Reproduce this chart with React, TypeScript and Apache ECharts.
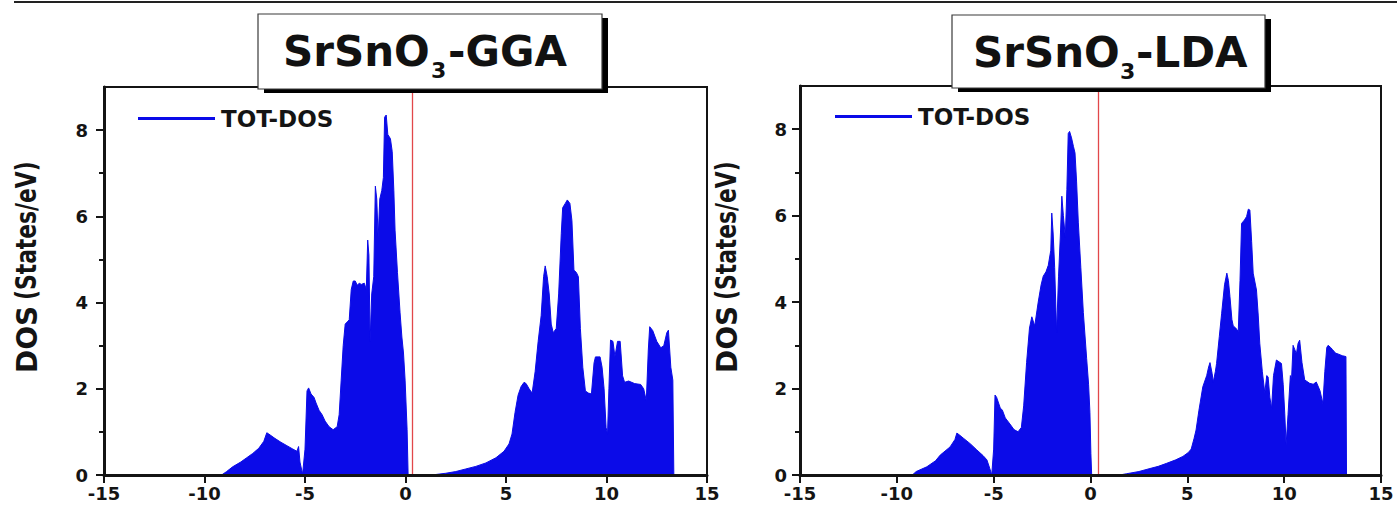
import { useEffect, useRef } from "react";
import * as echarts from "echarts";

// Total density of states of SrSnO3, GGA and LDA functionals (energy in eV, DOS in states/eV)
const ggaEnergy = [
  -15, -9.15, -8.9, -8.6, -8.2, -7.9, -7.6, -7.3, -7.05, -6.9, -6.8, -6.5, -6.2, -5.9, -5.6, -5.4,
  -5.32, -5.25, -5.12, -5.0, -4.9, -4.82, -4.7, -4.55, -4.45, -4.3, -4.15, -4.0, -3.8, -3.6, -3.4,
  -3.3, -3.2, -3.1, -3.0, -2.9, -2.8, -2.7, -2.6, -2.5, -2.4, -2.3, -2.2, -2.05, -1.95, -1.88, -1.82,
  -1.76, -1.68, -1.58, -1.5, -1.43, -1.36, -1.28, -1.18, -1.1, -1.04, -0.96, -0.88, -0.75, -0.66,
  -0.58, -0.52, -0.4, -0.27, -0.18, -0.1, -0.02, 0.08, 0.13,
  1.3, 2.0, 2.5, 3.0, 3.5, 4.0, 4.5, 4.9, 5.15, 5.3, 5.45, 5.6, 5.75, 5.9, 6.0, 6.15, 6.3, 6.45,
  6.6, 6.75, 6.87, 6.95, 7.05, 7.15, 7.25, 7.35, 7.5, 7.62, 7.75, 7.82, 7.95, 8.05, 8.18, 8.28,
  8.38, 8.5, 8.6, 8.7, 8.82, 8.95, 9.1, 9.25, 9.38, 9.45, 9.68, 9.78, 9.88, 9.98, 10.05, 10.12,
  10.2, 10.32, 10.42, 10.55, 10.68, 10.8, 10.9, 11.1, 11.4, 11.7, 11.85, 11.98, 12.08, 12.15,
  12.3, 12.5, 12.7, 12.85, 13.0, 13.08, 13.2, 13.3, 13.35,
];
const ggaDos = [
  0, 0, 0.08, 0.19, 0.3, 0.4, 0.5, 0.62, 0.78, 0.98, 0.95, 0.85, 0.76, 0.68, 0.6, 0.55,
  0.66, 0.3, 0.02, 0.6, 1.95, 2.02, 1.88, 1.8, 1.67, 1.5, 1.4, 1.25, 1.12, 1.05, 1.12,
  1.4, 2.2, 3.0, 3.5, 3.55, 3.6, 4.3, 4.5, 4.5, 4.4, 4.45, 4.42, 4.45, 4.3, 5.45, 5.1,
  3.1, 4.2, 4.6, 6.7, 6.4, 5.5, 6.4, 6.6, 6.9, 8.3, 8.35, 7.9, 7.8, 7.5,
  6.6, 5.68, 4.7, 3.76, 3.2, 2.83, 2.2, 1.05, 0,
  0, 0.04, 0.08, 0.14, 0.2, 0.28, 0.4, 0.55, 0.72, 0.95, 1.45, 1.85, 2.05, 2.15, 2.12, 2.0, 1.9, 2.4,
  3.1, 3.7, 4.6, 4.85, 4.6, 4.2, 3.5, 3.3, 3.4, 4.2, 5.6, 6.2, 6.3, 6.38, 6.3, 5.9,
  4.75, 4.7, 4.6, 3.4, 2.5, 1.95, 1.9, 1.88, 2.6, 2.74, 2.74, 2.5, 2.0, 1.1, 0.95, 2.0,
  3.13, 3.1, 2.75, 3.1, 3.1, 2.3, 2.15, 2.18, 2.12, 2.1, 2.0, 1.72, 2.9, 3.44,
  3.35, 3.1, 2.95, 3.0, 3.3, 3.36, 2.5, 2.2, 0,
];

const ldaEnergy = [
  -15, -9.2, -9.0, -8.45, -8.0, -7.76, -7.25, -7.0, -6.9, -6.75, -6.56, -6.2, -5.87, -5.55, -5.35,
  -5.2, -5.1, -5.0, -4.93, -4.85, -4.66, -4.55, -4.4, -4.16, -3.95, -3.74, -3.57, -3.45, -3.3,
  -3.15, -3.03, -2.88, -2.7, -2.55, -2.44, -2.3, -2.18, -2.05, -2.0, -1.93, -1.85, -1.75, -1.65,
  -1.55, -1.48, -1.4, -1.3, -1.22, -1.15, -1.08, -0.98, -0.88, -0.8, -0.72, -0.63, -0.5, -0.37,
  -0.2, -0.1, -0.03, 0.02, 0.06,
  1.5, 1.87, 2.5, 3.07, 3.5, 3.93, 4.4, 4.77, 5.05, 5.2, 5.35, 5.45, 5.6, 5.8, 6.0, 6.1, 6.17,
  6.28, 6.34, 6.45, 6.51, 6.65, 6.77, 6.92, 7.04, 7.12, 7.2, 7.3, 7.37, 7.5, 7.63, 7.72, 7.8,
  7.95, 8.06, 8.15, 8.23, 8.32, 8.4, 8.57, 8.66, 8.74, 8.87, 9.0, 9.1, 9.17, 9.26, 9.35, 9.45,
  9.6, 9.86, 9.95, 10.03, 10.1, 10.2, 10.32, 10.38, 10.46, 10.55, 10.63, 10.72, 10.8, 10.92,
  11.06, 11.32, 11.5, 11.66, 11.85, 12.0, 12.1, 12.2, 12.27, 12.4, 12.5, 12.65, 12.78, 13.0,
  13.19, 13.22,
];
const ldaDos = [
  0, 0, 0.08, 0.19, 0.33, 0.46, 0.65, 0.82, 0.97, 0.92, 0.85, 0.72, 0.58, 0.45, 0.35,
  0.15, 0, 0.6, 1.85, 1.8, 1.55, 1.5, 1.32, 1.18, 1.05, 1.0, 1.1, 1.6, 2.6,
  3.4, 3.66, 3.45, 4.0, 4.4, 4.6, 4.7, 4.85, 5.2, 6.06, 5.6, 4.8, 3.3, 4.6,
  5.6, 6.45, 6.0, 5.5, 6.6, 7.9, 7.95, 7.8, 7.6, 7.45, 6.8, 5.85, 4.8, 3.76,
  2.7, 2.1, 1.45, 0.5, 0,
  0, 0.03, 0.08, 0.15, 0.2, 0.27, 0.35, 0.43, 0.52, 0.6, 0.85, 1.04, 1.5, 2.04, 2.3, 2.5, 2.6,
  2.35, 2.15, 2.4, 2.58, 3.2, 3.73, 4.4, 4.67, 4.5, 4.13, 3.6, 3.45, 3.4, 3.32, 4.5, 5.82,
  5.9, 5.98, 6.15, 6.13, 5.4, 4.67, 4.28, 3.7, 3.05, 2.4, 1.9, 2.3, 2.27, 1.8, 1.54, 2.3,
  2.66, 2.58, 2.1, 1.43, 0.7, 1.4, 2.3, 2.2, 3.0, 2.9, 2.8, 3.05, 3.12, 2.6,
  2.2, 2.12, 2.1, 2.15, 1.95, 1.65, 2.4, 2.95, 3.0, 2.95, 2.9, 2.82, 2.8, 2.76,
  2.74, 0,
];

const seriesName = "TOT-DOS";
const fermiLevels = [0.35, 0.42];
const energyRange = [-15, 15];
const dosRange = [0, 9];
const majorDosTicks = [0, 2, 4, 6, 8];
const minorDosTicks = [1, 3, 5, 7];
const axisTitleMain = "DOS";
const axisTitleUnit = "(States/eV)";

const FONT = "DejaVu Sans";
const BLUE = "#0b0be8";
const INK = "#141414";

const zip = (xs: number[], ys: number[]) => xs.map((x, i) => [x, ys[i]]);

// Title box with a drop shadow and a subscripted formula
function titleBox(
  box: { x: number; y: number; w: number; h: number },
  textX: number,
  subX: number,
  suffixX: number,
  suffix: string
) {
  const main = { fontFamily: FONT, fontWeight: "bold", fontSize: 42, fill: "#111" };
  return [
    {
      type: "rect",
      z: 100,
      shape: { x: box.x + 6, y: box.y + 4, width: box.w, height: box.h },
      style: { fill: "#000" },
    },
    {
      type: "rect",
      z: 101,
      shape: { x: box.x, y: box.y, width: box.w, height: box.h },
      style: { fill: "#fff", stroke: "#3a3a3a", lineWidth: 1.2 },
    },
    {
      type: "text",
      z: 102,
      x: textX,
      y: box.y + 37,
      style: { ...main, text: "SrSnO", align: "left", verticalAlign: "middle" },
    },
    {
      type: "text",
      z: 102,
      x: subX,
      y: box.y + 56,
      style: {
        fontFamily: FONT,
        fontWeight: "bold",
        fontSize: 22,
        fill: "#111",
        text: "3",
        align: "left",
        verticalAlign: "middle",
      },
    },
    {
      type: "text",
      z: 102,
      x: suffixX,
      y: box.y + 37,
      style: { ...main, text: suffix, align: "left", verticalAlign: "middle" },
    },
  ];
}

// Rotated y-axis title; the unit part is set condensed
function axisTitle(x: number, y: number) {
  const st = { fontFamily: FONT, fontWeight: "bold", fontSize: 28, fill: INK };
  return {
    type: "group",
    x,
    y,
    rotation: Math.PI / 2,
    children: [
      { type: "text", x: 0, y: 0, style: { ...st, text: axisTitleMain, align: "left", verticalAlign: "middle" } },
      {
        type: "text",
        x: 73,
        y: 0,
        scaleX: 0.78,
        style: { ...st, text: axisTitleUnit, align: "left", verticalAlign: "middle" },
      },
    ],
  };
}

export default function App() {
  const ref = useRef<HTMLDivElement>(null);

  useEffect(() => {
    if (!ref.current) return;
    const chart = echarts.init(ref.current, null, { renderer: "svg" });

    const grids = [
      { left: 104, top: 87, width: 603, height: 388 },
      { left: 800, top: 86, width: 581, height: 389 },
    ];

    const xAxisFor = (gridIndex: number) => ({
      type: "value",
      gridIndex,
      position: "bottom",
      min: energyRange[0],
      max: energyRange[1],
      interval: 5,
      z: 5,
      axisLine: { show: true, onZero: false, lineStyle: { color: INK, width: 3 } },
      axisTick: { show: true, length: 8, lineStyle: { color: INK, width: 2 } },
      axisLabel: {
        fontFamily: FONT,
        fontWeight: "bold",
        fontSize: 18,
        color: INK,
        margin: 9,
      },
      splitLine: { show: false },
    });

    const yAxesFor = (gridIndex: number, margin: number) => [
      {
        type: "value",
        gridIndex,
        position: "left",
        min: dosRange[0],
        max: dosRange[1],
        interval: 2,
        z: 5,
        axisLine: { show: true, onZero: false, lineStyle: { color: INK, width: 3 } },
        axisTick: { show: true, length: 8, lineStyle: { color: INK, width: 2 }, customValues: majorDosTicks },
        axisLabel: {
          fontFamily: FONT,
          fontWeight: "bold",
          fontSize: 18,
          color: INK,
          margin,
          customValues: majorDosTicks,
        },
        splitLine: { show: false },
      },
      {
        type: "value",
        gridIndex,
        position: "left",
        offset: 0,
        min: dosRange[0],
        max: dosRange[1],
        interval: 1,
        z: 5,
        axisLine: { show: false, onZero: false },
        axisTick: { show: true, length: 5, lineStyle: { color: INK, width: 2 }, customValues: minorDosTicks },
        axisLabel: { show: false },
        splitLine: { show: false },
      },
    ];

    const dosSeries = (i: number, data: number[][]) => ({
      name: seriesName,
      type: "line",
      xAxisIndex: i,
      yAxisIndex: i * 2,
      data,
      symbol: "none",
      showSymbol: false,
      color: BLUE,
      lineStyle: { color: BLUE, width: 1 },
      areaStyle: { color: BLUE, opacity: 1 },
      markLine: {
        silent: true,
        symbol: ["none", "none"],
        label: { show: false },
        lineStyle: { color: "#e2474a", width: 1.3, type: "solid" },
        data: [{ xAxis: fermiLevels[i] }],
      },
    });

    const legendFor = (left: number, top: number) => ({
      left,
      top,
      data: [seriesName],
      icon: "rect",
      itemWidth: 77,
      itemHeight: 3,
      selectedMode: false,
      textStyle: {
        fontFamily: FONT,
        fontWeight: "bold",
        fontSize: 23,
        color: INK,
        padding: [0, 0, 0, 1],
      },
    });

    chart.setOption({
      animation: false,
      backgroundColor: "#ffffff",
      grid: grids.map((g) => ({
        ...g,
        show: true,
        borderColor: INK,
        borderWidth: 2,
        backgroundColor: "transparent",
      })),
      xAxis: [xAxisFor(0), xAxisFor(1)],
      yAxis: [...yAxesFor(0, 16), ...yAxesFor(1, 13)],
      legend: [legendFor(133, 102), legendFor(830, 100)],
      series: [dosSeries(0, zip(ggaEnergy, ggaDos)), dosSeries(1, zip(ldaEnergy, ldaDos))],
      graphic: [
        {
          type: "line",
          z: 100,
          shape: { x1: 14, y1: 2, x2: 1397, y2: 2 },
          style: { stroke: "#222", lineWidth: 2 },
        },
        ...titleBox({ x: 258, y: 14, w: 344, h: 75 }, 283, 431, 448, "-GGA"),
        ...titleBox({ x: 952, y: 15, w: 313, h: 73 }, 973, 1120, 1136, "-LDA"),
        axisTitle(27, 373),
        axisTitle(727, 373),
      ],
    });

    return () => chart.dispose();
  }, []);

  return (
    <div
      ref={ref}
      style={{ position: "fixed", left: 0, top: 0, width: 1397, height: 506, background: "#fff" }}
    />
  );
}
